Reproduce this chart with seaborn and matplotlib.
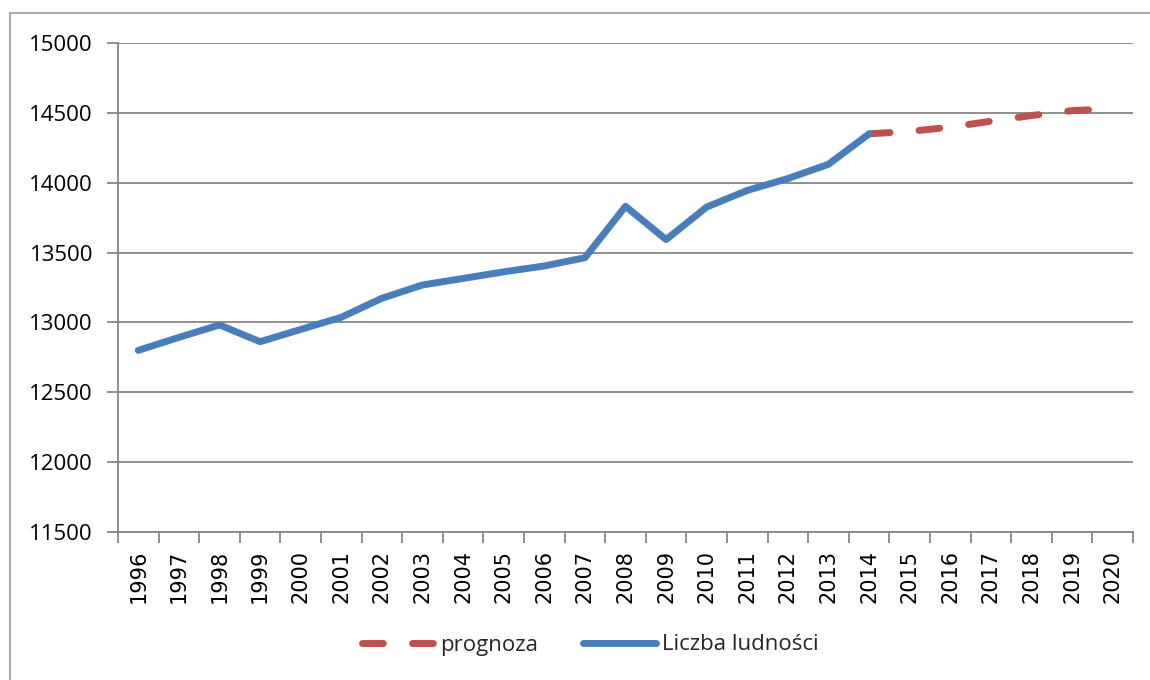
import matplotlib
matplotlib.use("Agg")
import matplotlib.pyplot as plt
from matplotlib.lines import Line2D
import seaborn as sns
import pandas as pd

years = list(range(1996, 2015))
population = [12800, 12893, 12982, 12862, 12950, 13037, 13173, 13268, 13315,
              13362, 13404, 13463, 13831, 13593, 13826, 13945, 14030, 14132, 14350]
forecast_years = list(range(2014, 2021))
forecast = [14350, 14367, 14398, 14440, 14481, 14516, 14530]
all_years = list(range(1996, 2021))
y_ticks = [11500, 12000, 12500, 13000, 13500, 14000, 14500, 15000]

label_hist = "Liczba ludności"
label_fc = "prognoza"
blue = "#4a7ebb"
red = "#c0504d"
grid = "#868686"

sns.set_theme(style="white")
plt.rcParams["font.family"] = ["Open Sans", "DejaVu Sans"]

fig = plt.figure(figsize=(11.5, 6.8), dpi=100)
ax = fig.add_axes([118/1150, 1-532/680, (1133-118)/1150, (532-43)/680])

df_h = pd.DataFrame({"rok": years, "v": population})
df_f = pd.DataFrame({"rok": forecast_years, "v": forecast})

sns.lineplot(data=df_f, x="rok", y="v", ax=ax, color=red, linewidth=5,
             dashes=False, legend=False, zorder=3)
ax.lines[-1].set_dashes((3, 4.2))
ax.lines[-1].set_dash_capstyle("round")
sns.lineplot(data=df_h, x="rok", y="v", ax=ax, color=blue, linewidth=5,
             legend=False, zorder=4)
ax.lines[-1].set_solid_capstyle("round")
ax.lines[-1].set_solid_joinstyle("round")

ax.set_xlim(1995.5, 2020.5)
ax.set_ylim(11500, 15000)
ax.set_yticks(y_ticks)
ax.set_yticklabels([str(t) for t in y_ticks], fontsize=16, color="black")
ax.set_xticks(all_years)
ax.set_xticklabels([str(y) for y in all_years], rotation=90, fontsize=15,
                   family=["DejaVu Sans"], color="black")
ax.set_xticks([y + 0.5 for y in [1995] + all_years], minor=True)
ax.tick_params(axis="x", which="major", length=0, pad=13)
ax.tick_params(axis="x", which="minor", length=8, width=1.3, color=grid, bottom=True)
ax.tick_params(axis="y", which="major", length=8, width=1.3, color=grid, pad=10, left=True)
ax.set_xlabel("")
ax.set_ylabel("")
ax.yaxis.grid(True, color=grid, linewidth=1.3)
ax.xaxis.grid(False)
for s in ["top", "right"]:
    ax.spines[s].set_visible(False)
for s in ["left", "bottom"]:
    ax.spines[s].set_color(grid)
    ax.spines[s].set_linewidth(1.3)

handles = [
    Line2D([0], [0], color=red, linewidth=5, dashes=(3, 4.2), dash_capstyle="round"),
    Line2D([0], [0], color=blue, linewidth=5, solid_capstyle="round"),
]
fig.legend(handles, [label_fc, label_hist], loc="center",
           bbox_to_anchor=(590/1150, 1-645/680), ncol=2, frameon=False,
           fontsize=16, handlelength=3.3, handletextpad=0.25, columnspacing=2.0)

# outer chart frame
fig.add_artist(Line2D([10/1150, 1.0], [1-13/680, 1-13/680], color="#a0a0a0", linewidth=1.3))
fig.add_artist(Line2D([10/1150, 10/1150], [0.0, 1-13/680], color="#a0a0a0", linewidth=1.3))

fig.savefig("out.png", dpi=100)
